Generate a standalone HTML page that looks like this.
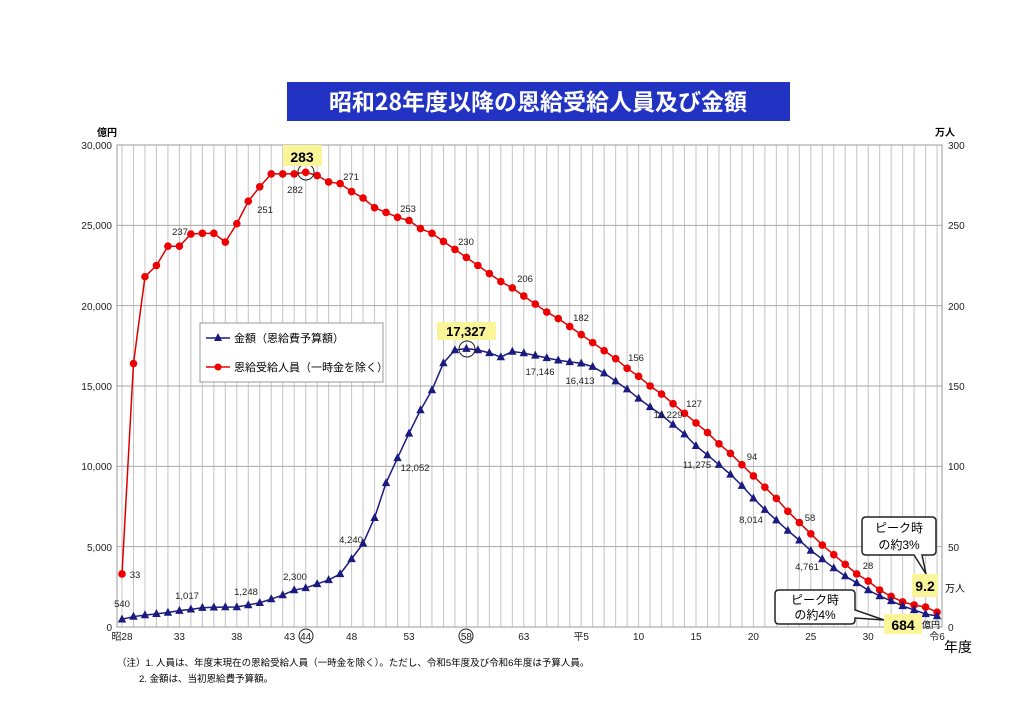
<!DOCTYPE html>
<html><head><meta charset="utf-8"><style>
body{margin:0;background:#fff;}
svg{display:block;font-family:"Liberation Sans","Noto Sans CJK JP",sans-serif;}
</style></head><body>
<svg width="1024" height="724" viewBox="0 0 1024 724" xmlns="http://www.w3.org/2000/svg">
<rect x="287" y="82" width="503" height="39" fill="#2233c4"/>
<text x="538" y="110" font-size="23" font-weight="bold" fill="#fff" text-anchor="middle" font-family="Noto Sans CJK JP,sans-serif">昭和28年度以降の恩給受給人員及び金額</text>
<g id="grid" stroke="#c4c4c4" stroke-width="1"></g>
<rect x="117" y="145" width="825" height="482" fill="none" stroke="#999"/>
<g font-size="10" fill="#222" text-anchor="end">
<text x="112" y="149">30,000</text><text x="112" y="229">25,000</text><text x="112" y="310">20,000</text><text x="112" y="390">15,000</text><text x="112" y="470">10,000</text><text x="112" y="551">5,000</text><text x="112" y="631">0</text>
</g>
<g font-size="10" fill="#222">
<text x="948" y="149">300</text><text x="948" y="229">250</text><text x="948" y="310">200</text><text x="948" y="390">150</text><text x="948" y="470">100</text><text x="948" y="551">50</text><text x="948" y="631">0</text>
</g>
<text x="97" y="136" font-size="10" font-weight="bold">億円</text>
<text x="935" y="136" font-size="10" font-weight="bold">万人</text>
<g font-size="10" fill="#222" text-anchor="middle" id="xl"></g>
<text x="958" y="652" font-size="14" text-anchor="middle">年度</text>
<circle cx="306" cy="636" r="7" fill="none" stroke="#222"/>
<circle cx="466" cy="636" r="7" fill="none" stroke="#222"/>
<polyline id="red" fill="none" stroke="#d00" stroke-width="1.5"/>
<polyline id="blue" fill="none" stroke="#1a1a80" stroke-width="1.5"/>
<g id="rd" fill="#e00"></g>
<g id="bt" fill="#1a1a80"></g>
<circle cx="306" cy="172" r="8" fill="none" stroke="#222"/>
<circle cx="467" cy="349" r="8" fill="none" stroke="#222"/>
<rect x="283" y="145" width="39" height="21" fill="#fbf59a"/>
<text x="302" y="162" font-size="14" font-weight="bold" text-anchor="middle">283</text>
<rect x="437" y="322" width="59" height="18" fill="#fbf59a"/>
<text x="466" y="336" font-size="13" font-weight="bold" text-anchor="middle">17,327</text>
<g font-size="9.5" fill="#222" text-anchor="middle">
<text x="122" y="607">540</text><text x="187" y="599">1,017</text><text x="246" y="595">1,248</text><text x="295" y="580">2,300</text><text x="351" y="543">4,240</text><text x="415" y="471">12,052</text><text x="540" y="375">17,146</text><text x="580" y="384">16,413</text><text x="668" y="418">14,229</text><text x="697" y="468">11,275</text><text x="751" y="523">8,014</text><text x="807" y="570">4,761</text>
<text x="135" y="578">33</text><text x="180" y="235">237</text><text x="265" y="213">251</text><text x="295" y="193">282</text><text x="351" y="180">271</text><text x="408" y="212">253</text><text x="466" y="245">230</text><text x="525" y="282">206</text><text x="581" y="321">182</text><text x="636" y="361">156</text><text x="694" y="407">127</text><text x="752" y="460">94</text><text x="810" y="521">58</text><text x="868" y="569">28</text>
</g>
<rect x="200" y="323" width="183" height="59" fill="#fff" stroke="#999"/>
<line x1="206" y1="338" x2="230" y2="338" stroke="#1a1a80" stroke-width="1.5"/><path d="M218,333 L222,341 L214,341Z" fill="#1a1a80"/>
<line x1="206" y1="367" x2="230" y2="367" stroke="#e00" stroke-width="1.5"/><circle cx="218" cy="367" r="3.5" fill="#e00"/>
<text x="234" y="342" font-size="11">金額（恩給費予算額）</text>
<text x="234" y="371" font-size="11">恩給受給人員（一時金を除く）</text>
<path d="M866,517 H932 Q936,517 936,521 V551 Q936,555 932,555 H922 L926,574 L914,555 H866 Q862,555 862,551 V521 Q862,517 866,517Z" fill="#fff" stroke="#222" stroke-width="1.5"/>
<text x="899" y="532" font-size="12" text-anchor="middle">ピーク時</text>
<text x="899" y="549" font-size="12" text-anchor="middle">の約3%</text>
<rect x="912" y="574" width="26" height="23" fill="#fbf59a"/>
<text x="925" y="591" font-size="14" font-weight="bold" text-anchor="middle">9.2</text>
<text x="945" y="592" font-size="10">万人</text>
<path d="M779,590 H851 Q855,590 855,594 V610 L884,620 L855,618 V620 Q855,624 851,624 H779 Q775,624 775,620 V594 Q775,590 779,590Z" fill="#fff" stroke="#222" stroke-width="1.5"/>
<text x="815" y="604" font-size="12" text-anchor="middle">ピーク時</text>
<text x="815" y="619" font-size="12" text-anchor="middle">の約4%</text>
<rect x="884" y="614" width="38" height="20" fill="#fbf59a"/>
<text x="903" y="630" font-size="14" font-weight="bold" text-anchor="middle">684</text>
<text x="922" y="628" font-size="9">億円</text>
<text x="117" y="666" font-size="9.5">（注）1. 人員は、年度末現在の恩給受給人員（一時金を除く）。ただし、令和5年度及び令和6年度は予算人員。</text>
<text x="139" y="682" font-size="9.5">2. 金額は、当初恩給費予算額。</text>
<script>
var red=[33,164,218,225,237,237,244.6,245,245,239.6,251,265,274,282,282,282,283,281,277,276,271,267,261,258,255,253,248,245,240,235,230,225,220,215,211,206,201,196,192,187,182,177,172,167,161,156,150,145,139,133,127,121,114,108,101,94,87,80,72,65,58,51,45,39,33,28.6,23,19,15.6,13.7,12.4,9.2];
var blue=[480,650,740,820,900,1017,1100,1200,1230,1240,1245,1370,1510,1740,1990,2300,2430,2680,2930,3300,4240,5200,6800,8970,10520,12052,13500,14750,16430,17240,17327,17240,17060,16800,17146,17050,16900,16750,16600,16500,16413,16200,15800,15300,14800,14229,13700,13200,12600,12000,11275,10700,10100,9500,8800,8014,7300,6650,6000,5400,4761,4230,3670,3170,2740,2300,1930,1620,1310,1060,810,684];
var ns="http://www.w3.org/2000/svg";
function X(i){return 122+i*11.48;}
var g=document.getElementById('grid');
function ln(x1,y1,x2,y2,c){var l=document.createElementNS(ns,'line');l.setAttribute('x1',x1);l.setAttribute('y1',y1);l.setAttribute('x2',x2);l.setAttribute('y2',y2);if(c)l.setAttribute('stroke',c);g.appendChild(l);}
for(var i=0;i<72;i++)ln(X(i),145,X(i),627);
for(var k=1;k<6;k++){var y=627-k*482/6;ln(117,y,942,y,'#aaa');}
var rp=[],bp=[],rd=document.getElementById('rd'),bt=document.getElementById('bt');
for(var i=0;i<72;i++){var x=X(i),yr=627-red[i]*1.6067,yb=627-blue[i]*482/30000;
rp.push(x+','+yr);bp.push(x+','+yb);
var c=document.createElementNS(ns,'circle');c.setAttribute('cx',x);c.setAttribute('cy',yr);c.setAttribute('r',3.8);rd.appendChild(c);
var p=document.createElementNS(ns,'path');p.setAttribute('d','M'+x+','+(yb-4.8)+' L'+(x+4.2)+','+(yb+3.2)+' L'+(x-4.2)+','+(yb+3.2)+'Z');bt.appendChild(p);}
document.getElementById('red').setAttribute('points',rp.join(' '));
document.getElementById('blue').setAttribute('points',bp.join(' '));
var xl=document.getElementById('xl');
var labs=[[0,'昭28'],[5,'33'],[10,'38'],[14.6,'43'],[16,'44'],[20,'48'],[25,'53'],[30,'58'],[35,'63'],[40,'平5'],[45,'10'],[50,'15'],[55,'20'],[60,'25'],[65,'30'],[71,'令6']];
labs.forEach(function(a){var t=document.createElementNS(ns,'text');t.setAttribute('x',X(a[0]));t.setAttribute('y',640);t.textContent=a[1];xl.appendChild(t);});
</script>
</svg>
</body></html>
